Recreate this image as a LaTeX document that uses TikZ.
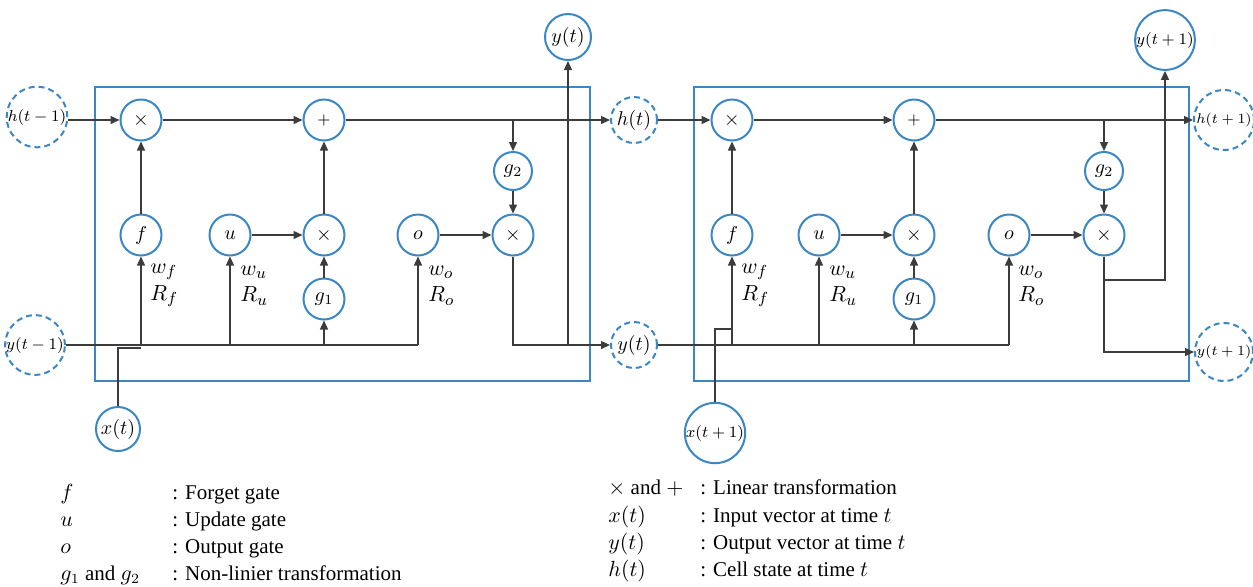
\documentclass[tikz,border=0pt]{standalone}
\usepackage{fontspec}
\setmainfont{Liberation Serif}
\usetikzlibrary{arrows.meta}
\definecolor{cblue}{RGB}{58,135,196}
\definecolor{cline}{RGB}{60,60,60}
\begin{document}
\begin{tikzpicture}[x=0.5pt,y=-0.5pt,
  gate/.style={circle,draw=cblue,line width=1pt,fill=white,minimum size=20.5pt,inner sep=0pt,font=\fontsize{10}{12}\selectfont},
  io/.style={gate,minimum size=#1},
  dio/.style={gate,dash pattern=on 3pt off 2pt,minimum size=#1},
  conn/.style={draw=cline,line width=0.7pt},
  arr/.style={conn,-{Triangle[length=4.5pt,width=4pt]}},
  cellbox/.style={draw=cblue,line width=1pt},
  wlab/.style={anchor=west,inner sep=0pt,font=\fontsize{11}{13}\selectfont},
  leg/.style={anchor=base west,inner sep=0pt,font=\fontsize{10.5}{12}\selectfont}]
\useasboundingbox (0,0) rectangle (1253,586);
% cell boxes
\draw[cellbox] (95,87) rectangle (590,381);
\draw[cellbox] (694,87) rectangle (1189,381);
% ---- left cell nodes
\node[dio=29pt,font=\fontsize{8.5}{10}\selectfont] (hm) at (37,117) {$h(t-1)$};
\node[dio=28pt,font=\fontsize{8.5}{10}\selectfont] (ym) at (35,345) {$y(t-1)$};
\node[gate] (xf1) at (141,120) {$\times$};
\node[gate] (f1) at (141,235) {$f$};
\node[gate] (u1) at (230,235) {$u$};
\node[gate,font=\fontsize{8}{10}\selectfont] (p1) at (324,120) {$+$};
\node[gate] (xu1) at (324,235) {$\times$};
\node[gate] (g11) at (324,299) {$g_1$};
\node[gate] (o1) at (418,235) {$o$};
\node[gate] (xo1) at (513,235) {$\times$};
\node[gate,minimum size=19pt] (g21) at (513,171) {$g_2$};
\node[io=23pt] (yt1) at (568,37) {$y(t)$};
\node[io=22pt] (x1) at (118,429) {$x(t)$};
\node[dio=23pt] (h1) at (634,120) {$h(t)$};
\node[dio=23pt] (y1) at (634,345) {$y(t)$};
% ---- right cell nodes
\node[gate] (xf2) at (732,120) {$\times$};
\node[gate] (f2) at (732,235) {$f$};
\node[gate] (u2) at (819,235) {$u$};
\node[gate,font=\fontsize{8}{10}\selectfont] (p2) at (914,120) {$+$};
\node[gate] (xu2) at (914,235) {$\times$};
\node[gate] (g12) at (914,299) {$g_1$};
\node[gate] (o2) at (1009,235) {$o$};
\node[gate] (xo2) at (1104,235) {$\times$};
\node[gate,minimum size=19pt] (g22) at (1104,171) {$g_2$};
\node[io=28pt,font=\fontsize{8}{10}\selectfont] (yt2) at (1165,40) {$y(t+1)$};
\node[io=28pt,font=\fontsize{8.5}{10}\selectfont] (x2) at (715,433) {$x(t+1)$};
\node[dio=30pt,font=\fontsize{7.5}{9}\selectfont] (h3) at (1224,120) {$h(t+1)$};
\node[dio=29pt,font=\fontsize{7.5}{9}\selectfont] (y3) at (1224,352) {$y(t+1)$};
% ---- junction coordinates
\coordinate (b1) at (513,120);
\coordinate (xs1) at (141,348);
\coordinate (b2) at (1104,120);
\coordinate (xs2) at (732,329);
\coordinate (br2) at (1104,280);
% ---- left connectors
\draw[arr] (hm.east |- xf1.west) -- (xf1.west);
\draw[arr] (xf1) -- (p1);
\draw[arr] (p1) -- (h1);
\draw[arr] (b1) -- (g21);
\draw[arr] (g21) -- (xo1);
\draw[arr] (o1) -- (xo1);
\draw[arr] (f1) -- (xf1);
\draw[arr] (u1) -- (xu1);
\draw[arr] (g11) -- (xu1);
\draw[arr] (xu1) -- (p1);
\draw[conn] (ym.east) -- (o1 |- ym.east);
\draw[arr] (f1 |- ym.east) -- (f1);
\draw[arr] (u1 |- ym.east) -- (u1);
\draw[arr] (g11 |- ym.east) -- (g11);
\draw[arr] (o1 |- ym.east) -- (o1);
\draw[conn] (x1.north) |- (xs1);
\draw[arr] (xo1) |- (y1);
\draw[arr] (yt1 |- y1) -- (yt1);
% ---- right connectors
\draw[arr] (h1) -- (xf2);
\draw[arr] (xf2) -- (p2);
\draw[arr] (p2) -- (h3);
\draw[arr] (b2) -- (g22);
\draw[arr] (g22) -- (xo2);
\draw[arr] (o2) -- (xo2);
\draw[arr] (f2) -- (xf2);
\draw[arr] (u2) -- (xu2);
\draw[arr] (g12) -- (xu2);
\draw[arr] (xu2) -- (p2);
\draw[conn] (y1) -- (o2 |- y1);
\draw[arr] (f2 |- y1) -- (f2);
\draw[arr] (u2 |- y1) -- (u2);
\draw[arr] (g12 |- y1) -- (g12);
\draw[arr] (o2 |- y1) -- (o2);
\draw[conn] (x2.north) |- (xs2);
\draw[arr] (xo2) |- (y3);
\draw[arr] (br2) -| (yt2);
% ---- weight labels
\node[wlab] (wf1) at (150,272) {$w_f$};
\node[wlab] (rf1) at (150,296) {$R_f$};
\node[wlab] (wu1) at (240,272) {$w_u$};
\node[wlab] (ru1) at (240,296) {$R_u$};
\node[wlab] (wo1) at (428,272) {$w_o$};
\node[wlab] (ro1) at (428,296) {$R_o$};
\node[wlab] (wf2) at (741,272) {$w_f$};
\node[wlab] (rf2) at (741,296) {$R_f$};
\node[wlab] (wu2) at (829,272) {$w_u$};
\node[wlab] (ru2) at (829,296) {$R_u$};
\node[wlab] (wo2) at (1018,272) {$w_o$};
\node[wlab] (ro2) at (1018,296) {$R_o$};
% ---- legend
\node[leg] (l1) at (60,499) {$f$};
\node[leg] (l2) at (60,526) {$u$};
\node[leg] (l3) at (60,553) {$o$};
\node[leg] (l4) at (60,580) {$g_1$ and $g_2$};
\node[leg] (d1) at (172,499) {: Forget gate};
\node[leg] (d2) at (172,526) {: Update gate};
\node[leg] (d3) at (172,553) {: Output gate};
\node[leg] (d4) at (172,580) {: Non-linier transformation};
\node[leg] (r1) at (608,494) {$\times$ and $+$};
\node[leg] (r2) at (608,522) {$x(t)$};
\node[leg] (r3) at (608,549) {$y(t)$};
\node[leg] (r4) at (608,576) {$h(t)$};
\node[leg] (e1) at (700,494) {: Linear transformation};
\node[leg] (e2) at (700,522) {: Input vector at time $t$};
\node[leg] (e3) at (700,549) {: Output vector at time $t$};
\node[leg] (e4) at (700,576) {: Cell state at time $t$};
\end{tikzpicture}
\end{document}
